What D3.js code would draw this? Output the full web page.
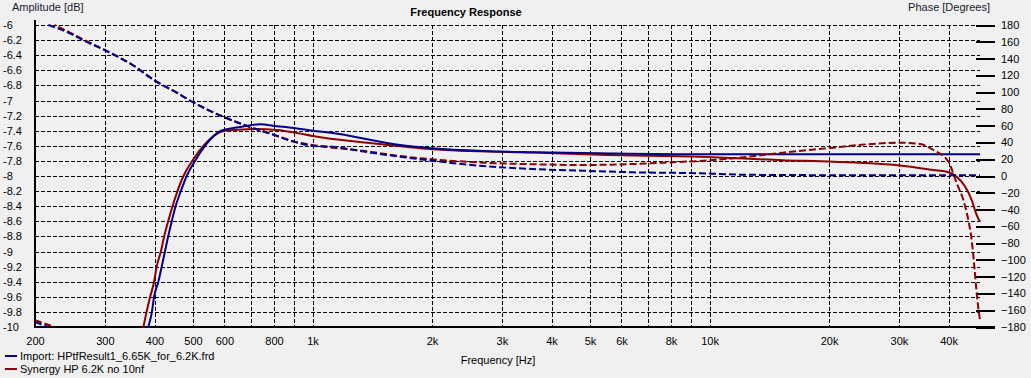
<!DOCTYPE html>
<html><head><meta charset="utf-8">
<script src="https://cdn.jsdelivr.net/npm/d3@7"></script>
<style>
html,body{margin:0;padding:0;background:#f0f0f0;}
svg{display:block;font-family:"Liberation Sans",Arial,sans-serif;font-size:11px;}
</style></head><body>
<svg id="chart" width="1031" height="378"></svg>
<script>
// ---- data ----
const seriesNames = ["Import: HPtfResult1_6.65K_for_6.2K.frd", "Synergy HP 6.2K no 10nf"];
const seriesColors = ["#00008b", "#8b0000"];

const freqTicks = [200,300,400,500,600,800,1000,2000,3000,4000,5000,6000,8000,10000,20000,30000,40000];
const freqTickLabels = ["200","300","400","500","600","800","1k","2k","3k","4k","5k","6k","8k","10k","20k","30k","40k"];
const freqGrid = [300,400,500,600,700,800,900,1000,2000,3000,4000,5000,6000,7000,8000,9000,10000,20000,30000,40000];
const dbTicks = [-6,-6.2,-6.4,-6.6,-6.8,-7,-7.2,-7.4,-7.6,-7.8,-8,-8.2,-8.4,-8.6,-8.8,-9,-9.2,-9.4,-9.6,-9.8,-10];
const dbTickLabels = ["-6","-6.2","-6.4","-6.6","-6.8","-7","-7.2","-7.4","-7.6","-7.8","-8","-8.2","-8.4","-8.6","-8.8","-9","-9.2","-9.4","-9.6","-9.8","-10"];
const phaseTicks = [180,160,140,120,100,80,60,40,20,0,-20,-40,-60,-80,-100,-120,-140,-160,-180];

// Import magnitude (dB)
const importMagF  = [378,386,394,399,409,417,425,433,442,452,466,482,506,536,588,657,738,814,914,1000,1126,1396,1662,2000,2690,3594,5300,9460,20000,48000];
const importMagDb = [-10.2,-10.0,-9.8,-9.6,-9.4,-9.2,-9.0,-8.8,-8.6,-8.4,-8.2,-8.0,-7.8,-7.6,-7.4,-7.35,-7.315,-7.34,-7.37,-7.40,-7.43,-7.52,-7.59,-7.633,-7.67,-7.686,-7.70,-7.713,-7.713,-7.713];
// Import phase (degrees, unwrapped)
const importPhaseF   = [200,216,245,264,300,353,400,456,500,600,700,800,900,1000,1126,1396,1662,2000,2690,3594,4802,6418,9460,10620,12140,20000,48000];
const importPhaseDeg = [186,180,170,162,150,132,114,99,88,70,58,49,40.7,36,34.8,28,23,18.2,11.9,8.3,6.3,4.4,3.2,2.4,1.5,1.0,0.9];

// Synergy magnitude (dB)
const synergyMagF  = [368,375,382,390,399,405,415,423,433,444,457,473,498,531,602,668,717,814,914,1000,1396,2000,3594,5300,9460,15300,20500,30200,36620,39580,41940,44020,45740,47100,48000];
const synergyMagDb = [-10.2,-10.0,-9.8,-9.6,-9.4,-9.2,-9.0,-8.8,-8.6,-8.4,-8.2,-8.0,-7.8,-7.6,-7.4,-7.385,-7.377,-7.39,-7.43,-7.47,-7.563,-7.645,-7.69,-7.72,-7.744,-7.79,-7.81,-7.86,-7.92,-7.943,-8.009,-8.14,-8.318,-8.517,-8.605];
// Synergy phase (degrees, unwrapped)
const synergyPhaseF   = [200,224,245,264,300,353,400,456,500,600,700,800,900,1000,1396,1662,2000,2690,3594,4802,6418,8576,9460,11460,15300,20500,24900,30200,33900,36620,39960,41940,43580,44860,45740,46450,47280,48000];
const synergyPhaseDeg = [188,180,171,163,150,132,114,99,88,70,58,49,41,37,29,23.8,19.9,15.9,14.0,13.1,14.3,17.0,17.9,21.1,27.8,33.8,37.8,39.7,38.1,31.0,17,-8.7,-28.6,-52.5,-76.3,-108,-147.8,-172];

// ---- layout ----
const L = 35, R = 980, T = 25, B = 327;
const DASH = [7,3];
const svg = d3.select("#chart");
svg.append("rect").attr("width",1031).attr("height",378).attr("fill","#f0f0f0");

const x = d3.scaleLog().domain([200,48000]).range([L,R]);
const yDb = d3.scaleLinear().domain([-10,-6]).range([B,T]);
const yPh = d3.scaleLinear().domain([-180,180]).range([B,T]);

// grid
const grid = svg.append("g").attr("shape-rendering","crispEdges");
grid.selectAll("line.h").data(dbTicks.filter(d=>d>-10)).enter().append("line")
  .attr("x1",L).attr("x2",R).attr("y1",d=>Math.round(yDb(d))+0.5).attr("y2",d=>Math.round(yDb(d))+0.5)
  .attr("stroke","#000").attr("stroke-width",1).attr("stroke-dasharray","4,2");
grid.selectAll("line.v").data(freqGrid).enter().append("line")
  .attr("y1",T).attr("y2",B).attr("x1",d=>Math.round(x(d))+0.5).attr("x2",d=>Math.round(x(d))+0.5)
  .attr("stroke","#000").attr("stroke-width",1).attr("stroke-dasharray","4,2");

// axes
const axL = svg.append("g").attr("transform",`translate(${L},0)`)
  .call(d3.axisLeft(yDb).tickValues(dbTicks).tickFormat((d,i)=>dbTickLabels[i]).tickSize(0).tickPadding(0));
axL.select(".domain").remove();
axL.selectAll("text").attr("text-anchor","start").attr("x",-32).attr("fill","#000")
  .style("font-family","'Liberation Sans',Arial,sans-serif").style("font-size","11px");

const axR = svg.append("g").attr("transform",`translate(976,0)`)
  .call(d3.axisRight(yPh).tickValues(phaseTicks).tickSize(19).tickPadding(6));
axR.select(".domain").remove();
axR.selectAll("line").attr("stroke","#000").attr("stroke-width",2).attr("shape-rendering","crispEdges");
axR.selectAll("text").attr("fill","#000").style("font-family","'Liberation Sans',Arial,sans-serif").style("font-size","11px");

const axB = svg.append("g").attr("transform",`translate(0,${B})`)
  .call(d3.axisBottom(x).tickValues(freqTicks).tickFormat((d,i)=>freqTickLabels[i]).tickSize(0).tickPadding(10));
axB.select(".domain").remove();
axB.selectAll("text").attr("fill","#000").style("font-family","'Liberation Sans',Arial,sans-serif").style("font-size","11px");

svg.append("line").attr("x1",L).attr("x2",L).attr("y1",20).attr("y2",B+1)
  .attr("stroke","#000").attr("stroke-width",2).attr("shape-rendering","crispEdges");
svg.append("line").attr("x1",L-1).attr("x2",995).attr("y1",B).attr("y2",B)
  .attr("stroke","#000").attr("stroke-width",2).attr("shape-rendering","crispEdges");

// clip
svg.append("clipPath").attr("id","plotclip").append("rect")
  .attr("x",L).attr("y",T-2).attr("width",R-L+2).attr("height",B-T+3);
const plot = svg.append("g").attr("clip-path","url(#plotclip)");

const lineDb = d3.line().x(d=>x(d[0])).y(d=>yDb(d[1])).curve(d3.curveMonotoneX);
const linePh = d3.line().x(d=>x(d[0])).y(d=>yPh(d[1])).curve(d3.curveMonotoneX);

function wrapSegments(fs, ps){
  const band = p => Math.floor((p+180)/360);
  const segs = []; let cur = [];
  for (let i=0;i<fs.length;i++){
    const f = fs[i], p = ps[i];
    if (i>0){
      const kp = band(ps[i-1]), kc = band(p);
      if (kp !== kc){
        const b = Math.max(kp,kc)*360 - 180;
        const t = (b - ps[i-1])/(p - ps[i-1]);
        const fb = Math.exp(Math.log(fs[i-1]) + t*(Math.log(f)-Math.log(fs[i-1])));
        cur.push([fb, b - kp*360]);
        segs.push(cur);
        cur = [[fb, b - kc*360]];
      }
    }
    cur.push([f, p - band(p)*360]);
  }
  segs.push(cur);
  return segs;
}

// length along a path up to a given screen x
function lengthAtX(node, px){
  let lo = 0, hi = node.getTotalLength();
  for (let k=0;k<40;k++){
    const mid = (lo+hi)/2;
    if (node.getPointAtLength(mid).x < px) lo = mid; else hi = mid;
  }
  return lo;
}

function drawMag(fs, vs, color){
  plot.append("path").datum(fs.map((f,i)=>[f,vs[i]])).attr("d",lineDb)
    .attr("fill","none").attr("stroke",color).attr("stroke-width",2);
}
function drawPhase(fs, vs, color){
  return wrapSegments(fs, vs).map(seg =>
    plot.append("path").datum(seg).attr("d",linePh)
      .attr("fill","none").attr("stroke",color).attr("stroke-width",2)
      .attr("stroke-dasharray",DASH.join(",")).node());
}
drawMag(synergyMagF, synergyMagDb, seriesColors[1]);
drawMag(importMagF, importMagDb, seriesColors[0]);
const synPh = drawPhase(synergyPhaseF, synergyPhaseDeg, seriesColors[1]);
const impPh = drawPhase(importPhaseF, importPhaseDeg, seriesColors[0]);

// align dash phase of the overlapping upper segments so gaps coincide
const ax = x(300);
const lb = lengthAtX(impPh[1], ax), lr = lengthAtX(synPh[1], ax);
d3.select(synPh[1]).attr("stroke-dashoffset", lb - lr);

// titles
svg.append("text").attr("x",466).attr("y",16).attr("text-anchor","middle")
  .attr("font-weight","bold").attr("fill","#000").text("Frequency Response");
svg.append("text").attr("x",12).attr("y",11).attr("fill","#1a1a2e").text("Amplitude [dB]");
svg.append("text").attr("x",990).attr("y",11).attr("text-anchor","end").attr("fill","#1a1a2e").text("Phase [Degrees]");
svg.append("text").attr("x",498).attr("y",364).attr("text-anchor","middle").attr("fill","#000").text("Frequency [Hz]");

// legend
const lg = svg.append("g");
seriesNames.forEach((n,i)=>{
  const yy = 356 + i*13;
  lg.append("line").attr("x1",5).attr("x2",17).attr("y1",yy).attr("y2",yy)
    .attr("stroke",seriesColors[i]).attr("stroke-width",2);
  lg.append("text").attr("x",20).attr("y",yy+4).attr("fill","#000").text(n);
});
</script>
</body></html>
